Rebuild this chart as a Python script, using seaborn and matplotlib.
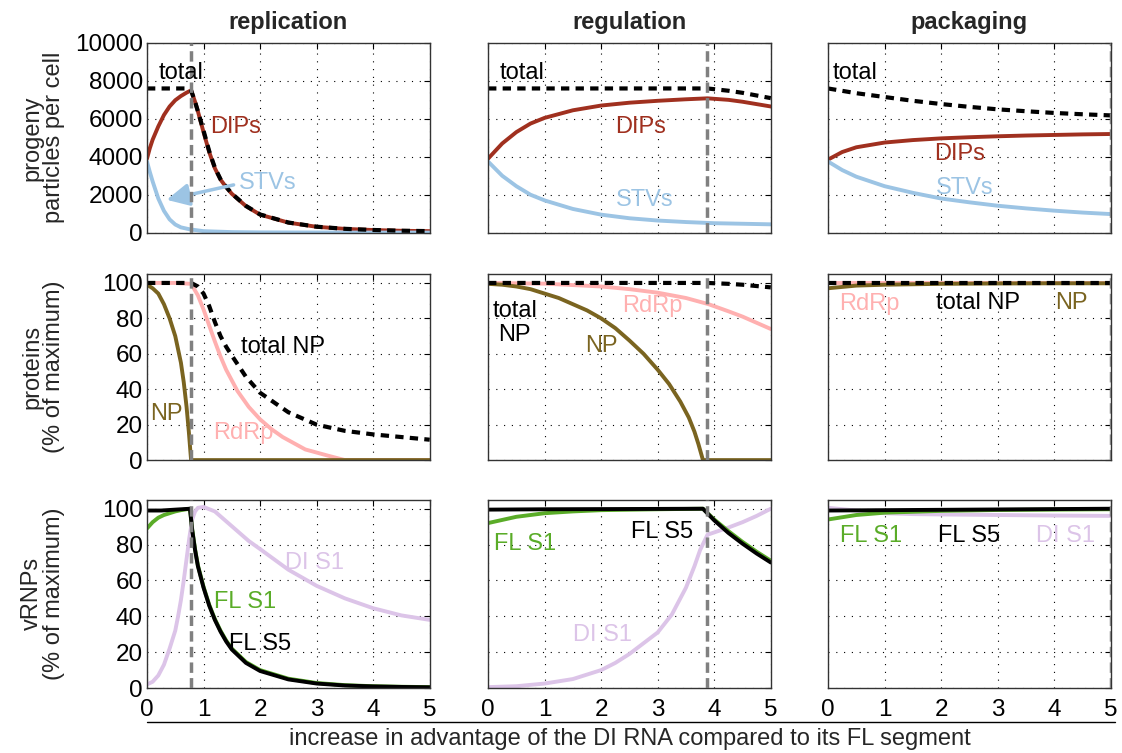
import numpy as np
import pandas as pd
import matplotlib
matplotlib.use("Agg")
import matplotlib.pyplot as plt
import seaborn as sns

# ---- data ----
columns = ["replication", "regulation", "packaging"]
x_ticks = [0, 1, 2, 3, 4, 5]
# position of the grey threshold line in each column
threshold = [0.77, 3.88, 5.0]

# row 1: progeny particles per cell
rep_dip_x = [0, 0.05, 0.1, 0.2, 0.3, 0.4, 0.5, 0.6, 0.7, 0.78, 0.85, 0.9, 1.0, 1.1, 1.2, 1.3,
             1.4, 1.5, 1.75, 2.0, 2.5, 3.0, 3.5, 4.0, 4.5, 5.0]
rep_dip = [3900, 4450, 4900, 5600, 6200, 6650, 6980, 7200, 7380, 7500, 6900, 6400, 5300, 4250,
           3400, 2800, 2400, 2050, 1400, 950, 530, 310, 200, 140, 100, 80]
rep_stv_x = [0, 0.05, 0.1, 0.2, 0.3, 0.4, 0.5, 0.6, 0.75, 1.0, 1.5, 2.0, 3.0, 5.0]
rep_stv = [3750, 3200, 2700, 1800, 1150, 700, 430, 280, 180, 80, 30, 15, 8, 5]
rep_tot_x = [0, 0.75, 0.78, 0.85, 0.9, 1.0, 1.1, 1.2, 1.3, 1.4, 1.5, 1.75, 2.0, 2.5, 3.0, 3.5,
             4.0, 4.5, 5.0]
rep_tot = [7600, 7600, 7500, 6900, 6400, 5380, 4300, 3430, 2820, 2415, 2060, 1410, 960, 535, 315,
           203, 142, 102, 82]

reg_dip_x = [0, 0.25, 0.5, 0.75, 1.0, 1.5, 2.0, 2.5, 3.0, 3.5, 3.88, 4.25, 4.5, 5.0]
reg_dip = [3900, 4700, 5300, 5750, 6050, 6450, 6700, 6850, 6950, 7030, 7080, 7000, 6900, 6650]
reg_stv_x = [0, 0.25, 0.5, 0.75, 1.0, 1.5, 2.0, 2.5, 3.0, 3.5, 4.0, 4.5, 5.0]
reg_stv = [3750, 3000, 2450, 2000, 1700, 1250, 950, 760, 640, 560, 500, 470, 440]
reg_tot_x = [0, 1, 2, 3, 3.88, 4.25, 4.5, 5.0]
reg_tot = [7600, 7600, 7600, 7600, 7600, 7480, 7370, 7090]

pac_dip_x = [0, 0.25, 0.5, 1.0, 1.5, 2.0, 2.5, 3.0, 3.5, 4.0, 4.5, 5.0]
pac_dip = [3850, 4250, 4500, 4750, 4880, 4970, 5030, 5080, 5120, 5150, 5180, 5200]
pac_stv_x = [0, 0.25, 0.5, 1.0, 1.5, 2.0, 2.5, 3.0, 3.5, 4.0, 4.5, 5.0]
pac_stv = [3750, 3300, 2950, 2450, 2100, 1800, 1600, 1420, 1280, 1160, 1060, 980]
pac_tot_x = [0, 0.5, 1.0, 1.5, 2.0, 2.5, 3.0, 3.5, 4.0, 4.5, 5.0]
pac_tot = [7600, 7350, 7150, 6950, 6780, 6630, 6500, 6400, 6310, 6240, 6180]

# row 2: proteins (% of maximum)
rep_np_x = [0, 0.1, 0.2, 0.3, 0.4, 0.5, 0.6, 0.65, 0.7, 0.74, 0.76, 0.78, 1.0, 5.0]
rep_np = [99, 97, 94, 88, 80, 70, 55, 44, 30, 16, 8, 0, 0, 0]
rep_rdrp_x = [0, 0.5, 0.78, 0.9, 1.0, 1.1, 1.2, 1.3, 1.4, 1.6, 1.8, 2.0, 2.2, 2.4, 2.8, 3.2,
              3.5, 5.0]
rep_rdrp = [100, 100, 99.5, 93, 85, 76, 67, 58.5, 51, 39, 30, 23, 17.5, 13, 6, 2.5, 0, 0]
rep_tnp_x = [0, 0.78, 0.9, 1.0, 1.1, 1.2, 1.3, 1.4, 1.5, 1.75, 2.0, 2.5, 3.0, 3.5, 4.0, 4.5, 5.0]
rep_tnp = [100, 100, 98, 94, 87, 78, 70, 64, 59, 47, 38, 27, 20, 16.5, 14.5, 13, 11.5]

reg_np_x = [0, 0.25, 0.5, 0.75, 1.0, 1.25, 1.5, 1.75, 2.0, 2.25, 2.5, 2.75, 3.0, 3.2, 3.4,
            3.55, 3.65, 3.72, 3.8, 4.0, 5.0]
reg_np = [99.5, 99, 98, 96.5, 94, 91.5, 88, 84.5, 80, 74.5, 67.5, 60, 51, 43, 33, 24, 16, 9,
          0, 0, 0]
reg_rdrp_x = [0, 1.0, 2.0, 2.5, 3.0, 3.5, 3.9, 4.25, 4.5, 4.75, 5.0]
reg_rdrp = [100, 99.6, 98, 96.5, 94.5, 91.5, 88, 84, 81, 77.5, 74]
reg_tnp_x = [0, 1, 2, 3, 3.88, 4.25, 4.5, 5.0]
reg_tnp = [100, 100, 100, 100, 100, 99.5, 99, 97.5]

pac_np_x = [0, 0.5, 1.0, 2.0, 3.0, 4.0, 5.0]
pac_np = [97, 98.5, 99, 99.5, 99.7, 99.8, 99.8]
pac_rdrp_x = [0, 1, 2, 3, 4, 5]
pac_rdrp = [100, 100, 100, 100, 100, 100]
pac_tnp_x = [0, 1, 2, 3, 4, 5]
pac_tnp = [100, 100, 100, 100, 100, 100]

# row 3: vRNPs (% of maximum)
rep_s5_x = [0, 0.25, 0.5, 0.76, 0.8, 0.85, 0.9, 1.0, 1.1, 1.2, 1.3, 1.4, 1.5, 1.75, 2.0, 2.5,
            3.0, 3.5, 4.0, 4.5, 5.0]
rep_s5 = [99, 99, 99.5, 100, 88, 77, 68, 56, 46, 38, 31.5, 26, 21.5, 14, 9.5, 4.8, 2.5, 1.4, 0.9,
          0.6, 0.4]
rep_s1_x = [0, 0.1, 0.2, 0.3, 0.4, 0.5, 0.6, 0.76, 0.8, 0.85, 0.9, 1.0, 1.1, 1.2, 1.3, 1.4, 1.5,
            1.75, 2.0, 2.5, 3.0, 3.5, 4.0, 4.5, 5.0]
rep_s1 = [89, 92.5, 95, 96.5, 97.5, 98.5, 99.2, 100, 88.5, 77.5, 68.5, 56.5, 46.5, 38.5, 32, 26.5,
          22, 14.5, 10, 5.2, 2.8, 1.6, 1.0, 0.7, 0.5]
rep_di_x = [0, 0.1, 0.2, 0.3, 0.4, 0.5, 0.55, 0.6, 0.65, 0.7, 0.75, 0.8, 0.85, 0.9, 1.0, 1.2,
            1.4, 1.6, 1.8, 2.0, 2.5, 3.0, 3.5, 4.0, 4.5, 5.0]
rep_di = [2, 3.5, 7, 13, 22, 32, 40, 49, 60, 72, 84, 94, 98.5, 100.5, 101, 98.5, 93, 87.5, 82,
          77.5, 66, 57, 50, 44.5, 40.5, 38]

reg_s5_x = [0, 1, 2, 3, 3.8, 4.0, 4.25, 4.5, 4.75, 5.0]
reg_s5 = [99.5, 99.7, 99.8, 99.9, 100, 93.5, 86.5, 80.5, 75, 70]
reg_s1_x = [0, 0.5, 1.0, 1.5, 2.0, 3.0, 3.8, 4.0, 4.25, 4.5, 4.75, 5.0]
reg_s1 = [92, 95.5, 97.5, 98.5, 99.2, 99.7, 100, 94, 87.5, 81.5, 76, 71]
reg_di_x = [0, 0.5, 1.0, 1.5, 2.0, 2.25, 2.5, 2.75, 3.0, 3.25, 3.5, 3.65, 3.75, 3.88, 4.25, 4.5,
            4.75, 5.0]
reg_di = [0.5, 1, 2.5, 5, 10, 14, 19, 25, 31, 41, 56, 68, 77, 85.5, 89.5, 92.5, 96, 100]

pac_s5_x = [0, 1, 2, 3, 4, 5]
pac_s5 = [99, 99.2, 99.4, 99.6, 99.8, 100]
pac_s1_x = [0, 0.5, 1.0, 2.0, 3.0, 4.0, 5.0]
pac_s1 = [94, 96.5, 97.8, 98.8, 99.3, 99.5, 99.7]
pac_di_x = [0, 0.5, 1.0, 1.5, 2.0, 3.0, 4.0, 5.0]
pac_di = [100.5, 99, 97.5, 97, 96.8, 96.5, 96.2, 96]

# ---- styling ----
C_DIP = "#a0301f"
C_STV = "#9cc4e4"
C_NP = "#7a6420"
C_RDRP = "#ffb0b0"
C_S1 = "#5aac28"
C_DI = "#dcc4e8"
C_GREY = "#808080"
LW = 2.8

sns.set_theme(style="white")
plt.rcParams["font.family"] = ["Liberation Sans", "DejaVu Sans"]
plt.rcParams["font.size"] = 17

fig = plt.figure(figsize=(11.22, 7.53), dpi=100)
lefts = [0.131, 0.435, 0.738]
width = 0.252
rows = [(0.691, 0.252), (0.389, 0.247), (0.0863, 0.25)]
axes = [[fig.add_axes([l, b, width, h]) for l in lefts] for (b, h) in rows]


def solid(ax, x, y, color):
    sns.lineplot(x=x, y=y, ax=ax, color=color, lw=LW, sort=False, estimator=None)


def dashed(ax, x, y):
    sns.lineplot(x=x, y=y, ax=ax, color="black", lw=3, sort=False, estimator=None,
                 dashes=False).lines[-1].set_dashes((2, 1.5))


series = [
    [  # row 1
        [(rep_dip_x, rep_dip, C_DIP), (rep_stv_x, rep_stv, C_STV)],
        [(reg_dip_x, reg_dip, C_DIP), (reg_stv_x, reg_stv, C_STV)],
        [(pac_dip_x, pac_dip, C_DIP), (pac_stv_x, pac_stv, C_STV)],
    ],
    [  # row 2
        [(rep_rdrp_x, rep_rdrp, C_RDRP), (rep_np_x, rep_np, C_NP)],
        [(reg_rdrp_x, reg_rdrp, C_RDRP), (reg_np_x, reg_np, C_NP)],
        [(pac_rdrp_x, pac_rdrp, C_RDRP), (pac_np_x, pac_np, C_NP)],
    ],
    [  # row 3
        [(rep_di_x, rep_di, C_DI), (rep_s1_x, rep_s1, C_S1), (rep_s5_x, rep_s5, "black")],
        [(reg_di_x, reg_di, C_DI), (reg_s1_x, reg_s1, C_S1), (reg_s5_x, reg_s5, "black")],
        [(pac_di_x, pac_di, C_DI), (pac_s1_x, pac_s1, C_S1), (pac_s5_x, pac_s5, "black")],
    ],
]
totals = [
    [(rep_tot_x, rep_tot), (reg_tot_x, reg_tot), (pac_tot_x, pac_tot)],
    [(rep_tnp_x, rep_tnp), (reg_tnp_x, reg_tnp), (pac_tnp_x, pac_tnp)],
    None,
]

for r in range(3):
    for c in range(3):
        ax = axes[r][c]
        for x, y, col in series[r][c]:
            solid(ax, x, y, col)
        if totals[r] is not None:
            tx, ty = totals[r][c]
            dashed(ax, tx, ty)
        ax.axvline(threshold[c], color=C_GREY, lw=2.5, dashes=(3, 1.5), zorder=5)

        ax.set_xlim(0, 5)
        ax.set_xticks(x_ticks)
        if r == 0:
            ax.set_ylim(0, 10000)
            ax.set_yticks([0, 2000, 4000, 6000, 8000, 10000])
        else:
            ax.set_ylim(0, 105)
            ax.set_yticks([0, 20, 40, 60, 80, 100])
        ax.grid(True, color="black", lw=0.8, linestyle=(0, (1, 6)))
        ax.tick_params(direction="in", top=True, right=True, length=4, width=0.8,
                       labelsize=17.5, colors="black")
        ax.tick_params(axis="x", pad=8)
        ax.tick_params(axis="y", pad=3)
        for s in ax.spines.values():
            s.set_color("#333333")
            s.set_linewidth(1.0)
        if r < 2:
            ax.set_xticklabels([])
        if c > 0:
            ax.set_yticklabels([])
        ax.set_xlabel("")
        ax.set_ylabel("")

for c, title in enumerate(columns):
    axes[0][c].set_title(title, fontsize=17, fontweight="bold", pad=10)

axes[0][0].set_ylabel("progeny\nparticles per cell", fontsize=17, linespacing=1.0)
axes[1][0].set_ylabel("proteins\n(% of maximum)", fontsize=17, linespacing=1.0)
axes[2][0].set_ylabel("vRNPs\n(% of maximum)", fontsize=17, linespacing=1.0)
for r in range(3):
    axes[r][0].yaxis.set_label_coords(-0.29, 0.5)

# in-plot labels
fs = 17
def lab(ax, x, y, s, color, ha="center"):
    ax.text(x, y, s, color=color, fontsize=fs, ha=ha, va="center", zorder=6,
            linespacing=1.1)

a = axes[0][0]
lab(a, 0.6, 8400, "total", "black")
lab(a, 1.56, 5560, "DIPs", C_DIP)
lab(a, 2.14, 2600, "STVs", C_STV)
a.annotate("", xy=(0.3, 1700), xytext=(1.58, 2550),
           arrowprops=dict(arrowstyle="-|>,head_length=0.8,head_width=0.4",
                           color=C_STV, lw=2.5))
a = axes[0][1]
lab(a, 0.6, 8400, "total", "black")
lab(a, 2.69, 5560, "DIPs", C_DIP)
lab(a, 2.77, 1710, "STVs", C_STV)
a = axes[0][2]
lab(a, 0.48, 8400, "total", "black")
lab(a, 2.33, 4120, "DIPs", C_DIP)
lab(a, 2.42, 2350, "STVs", C_STV)

a = axes[1][0]
lab(a, 2.4, 64, "total NP", "black")
lab(a, 0.35, 26, "NP", C_NP)
lab(a, 1.7, 15.5, "RdRp", C_RDRP)
a = axes[1][1]
lab(a, 0.47, 77.5, "total\nNP", "black")
lab(a, 2.9, 87, "RdRp", C_RDRP)
lab(a, 2.0, 64.6, "NP", C_NP)
a = axes[1][2]
lab(a, 0.73, 88, "RdRp", C_RDRP)
lab(a, 2.65, 88.5, "total NP", "black")
lab(a, 4.3, 88.5, "NP", C_NP)

a = axes[2][0]
lab(a, 2.97, 70, "DI S1", C_DI)
lab(a, 1.74, 48, "FL S1", C_S1)
lab(a, 2.0, 24.3, "FL S5", "black")
a = axes[2][1]
lab(a, 0.65, 80.5, "FL S1", C_S1)
lab(a, 3.07, 87, "FL S5", "black")
lab(a, 2.03, 29.4, "DI S1", C_DI)
a = axes[2][2]
lab(a, 0.76, 84.8, "FL S1", C_S1)
lab(a, 2.5, 84.8, "FL S5", "black")
lab(a, 4.2, 84.8, "DI S1", C_DI)

# shared x label with rule above it
fig.add_artist(plt.Line2D([0.131, 0.994], [0.041, 0.041], color="black", lw=1.0))
fig.text(0.561, 0.019, "increase in advantage of the DI RNA compared to its FL segment",
         ha="center", va="center", fontsize=17)

fig.savefig("out.png", dpi=100)
